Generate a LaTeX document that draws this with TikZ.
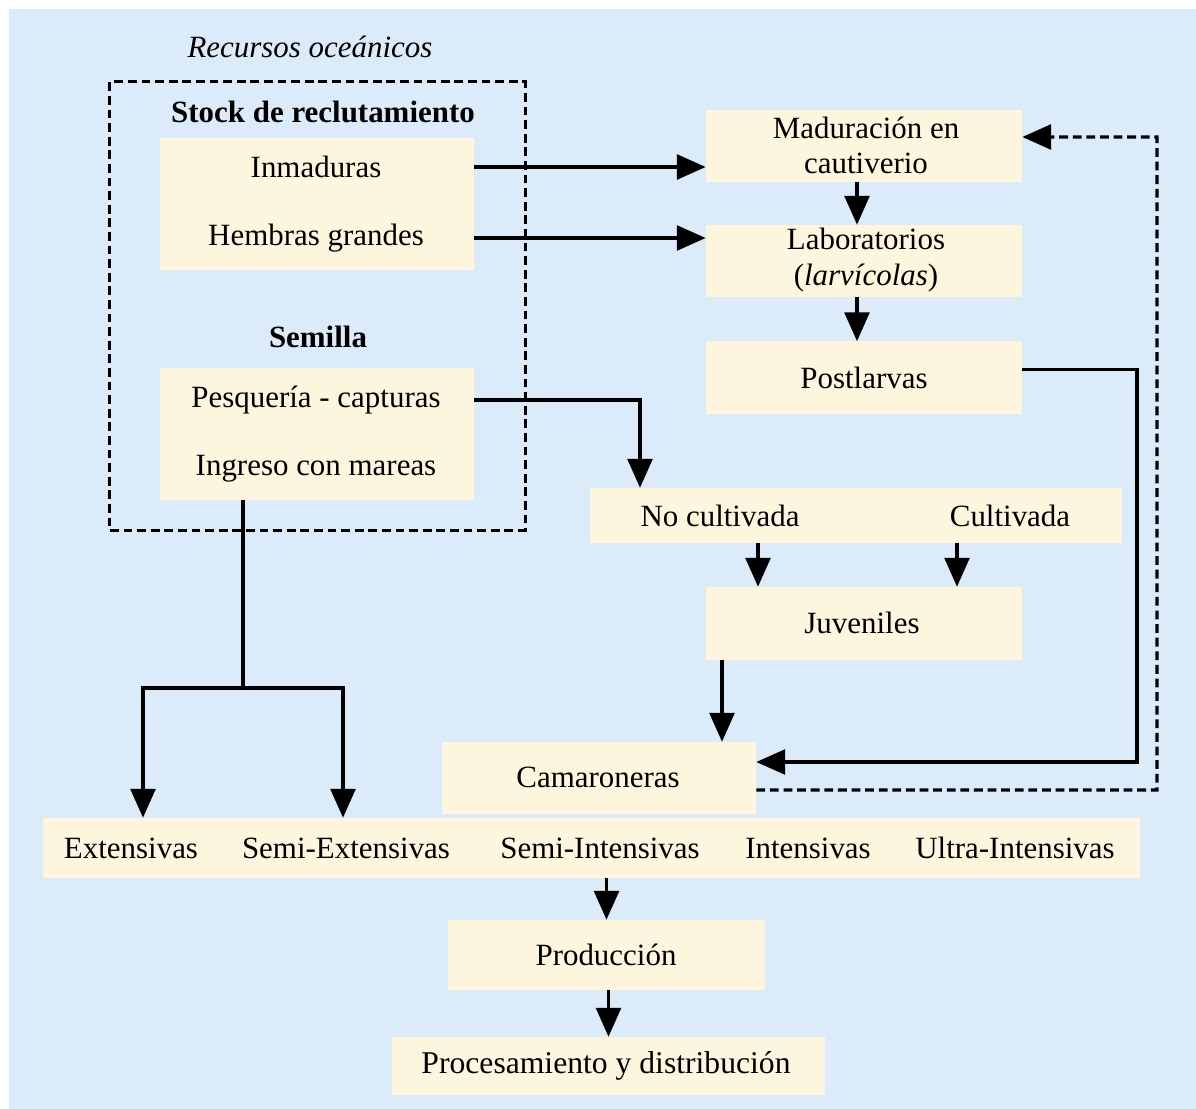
\documentclass[tikz,border=0pt]{standalone}
\usepackage{fontspec}
\setmainfont{Liberation Serif}
\usetikzlibrary{arrows.meta}
\definecolor{fondo}{RGB}{220,235,249}
\definecolor{crema}{RGB}{253,245,222}

\begin{document}
\begin{tikzpicture}[x=0.025cm,y=-0.025cm,
  caja/.style={fill=crema,inner sep=0pt},
  texto/.style={font=\fontsize{22}{25}\selectfont,align=center,inner sep=0pt},
  flecha/.style={line width=2.2pt,-{Triangle[length=0.72cm,width=0.62cm]}},
  raya/.style={line width=2.2pt,dash pattern=on 0.22cm off 0.12cm}]
\useasboundingbox[fill=white] (0,0) rectangle (1196,1109);
\fill[fondo] (9,9) rectangle (1196,1109);

\node[texto,font=\fontsize{22}{25}\selectfont\itshape] (recursos) at (310,47) {Recursos oceánicos};
\node[draw,raya,minimum width=10.375cm,minimum height=11.2cm] (marco) at (317.5,306) {};
\node[texto,font=\fontsize{22}{25}\selectfont\bfseries] (stocktit) at (323,112) {Stock de reclutamiento};
\node[caja,minimum width=7.85cm,minimum height=3.3cm] (stock) at (317,204) {};
\node[texto] (inmaduras) at (316,167) {Inmaduras};
\node[texto] (hembras) at (316,238) {Hembras grandes};
\node[texto,font=\fontsize{22}{25}\selectfont\bfseries] (semtit) at (318,337) {Semilla};
\node[caja,minimum width=7.85cm,minimum height=3.3cm] (semilla) at (317,434) {};
\node[texto] (pesqueria) at (316,400) {Pesquería - capturas};
\node[texto] (ingreso) at (316,469) {Ingreso con mareas};

\node[caja,minimum width=7.9cm,minimum height=1.8cm] (madur) at (864,146) {};
\node[texto] (madurtxt) at (866,145) {Maduración en\\cautiverio};
\node[caja,minimum width=7.9cm,minimum height=1.8cm] (lab) at (864,261) {};
\node[texto] (labtxt) at (866,260) {Laboratorios\\(\textit{larvícolas})};
\node[caja,minimum width=7.9cm,minimum height=1.8cm] (post) at (864,377.5) {};
\node[texto] (posttxt) at (864,378) {Postlarvas};

\node[caja,minimum width=13.3cm,minimum height=1.375cm] (cult) at (856,515.5) {};
\node[texto] (nocult) at (720,516) {No cultivada};
\node[texto] (sicult) at (1010,516) {Cultivada};
\node[caja,minimum width=7.9cm,minimum height=1.825cm] (juv) at (864,623.5) {};
\node[texto] (juvtxt) at (862,623) {Juveniles};

\node[caja,minimum width=7.85cm,minimum height=1.8cm] (camar) at (599,778) {};
\node[texto] (camartxt) at (598,777) {Camaroneras};
\node[caja,minimum width=27.425cm,minimum height=1.5cm] (tipos) at (591.5,848) {};
\node[texto] (ext) at (131,848) {Extensivas};
\node[texto] (semiext) at (346,848) {Semi-Extensivas};
\node[texto] (semiint) at (600,848) {Semi-Intensivas};
\node[texto] (int) at (808,848) {Intensivas};
\node[texto] (ultra) at (1015,848) {Ultra-Intensivas};
\node[caja,minimum width=7.925cm,minimum height=1.75cm] (prod) at (606.5,955) {};
\node[texto] (prodtxt) at (606,955) {Producción};
\node[caja,minimum width=10.825cm,minimum height=1.45cm] (proc) at (608.5,1066) {};
\node[texto,font=\fontsize{22.5}{25}\selectfont] (proctxt) at (606,1066) {Procesamiento y distribución};

\coordinate (codo) at (1137,700);
\coordinate (vuelta) at (1157,790);
\coordinate (rama) at (243,688);

\draw[flecha] (inmaduras -| stock.east) -- (inmaduras -| madur.west);
\draw[flecha] (hembras -| stock.east) -- (hembras -| lab.west);
\draw[flecha] (madur.south -| 857,0) -- (lab.north -| 857,0);
\draw[flecha] (lab.south -| 857,0) -- (post.north -| 857,0);
\draw[flecha] (pesqueria -| semilla.east) -| (cult.north -| 640,0);
\draw[flecha] (cult.south -| 758,0) -- (juv.north -| 758,0);
\draw[flecha] (cult.south -| 957,0) -- (juv.north -| 957,0);
\draw[flecha] (juv.south -| 722,0) -- (camar.north -| 722,0);
\draw[flecha] ([yshift=0.2cm]post.east) -| (codo) |- ([yshift=0.4cm]camar.east);
\draw[flecha,raya] ([yshift=-0.3cm]camar.east) -- (vuelta) |- ([yshift=0.225cm]madur.east);
\draw[line width=2.2pt] (rama |- semilla.south) -- (rama);
\draw[flecha] (rama) -| (tipos.north -| 143,0);
\draw[flecha] (rama) -| (tipos.north -| 343,0);
\draw[flecha] (tipos.south -| prod.north) -- (prod.north);
\draw[flecha] (prod.south -| proc.north) -- (proc.north);
\end{tikzpicture}
\end{document}
